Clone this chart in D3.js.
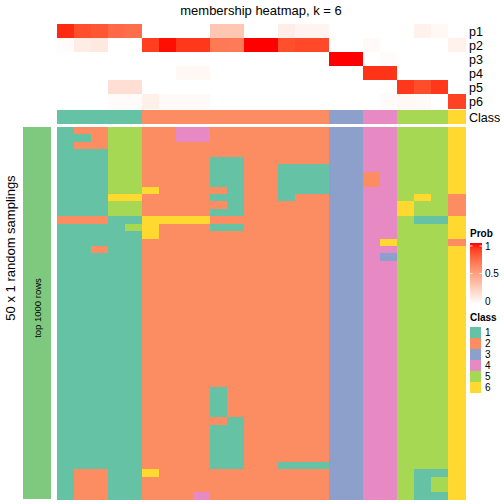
<!DOCTYPE html>
<html><head><meta charset="utf-8">
<script src="https://cdn.jsdelivr.net/npm/d3@7"></script>
<style>body{margin:0;background:#fff}svg{display:block}text{font-family:"Liberation Sans",Arial,sans-serif}</style>
</head><body><svg id="c" width="504" height="504"></svg>
<script>
const probRows = ["p1","p2","p3","p4","p5","p6"];
const classes = ["1","2","3","4","5","6"];
const classColors = ["#66C2A5","#FC8D62","#8DA0CB","#E78AC3","#A6D854","#FFD92F"];
const columnClass = [1,1,1,1,1,2,2,2,2,2,2,2,2,2,2,2,3,3,4,4,5,5,5,6];
const p1 = [0.95,0.85,0.82,0.75,0.73,0,0,0,0,0.3,0.3,0,0,0.09,0.06,0.06,0,0,0,0,0,0.07,0.04,0];
const p2 = [0.02,0.1,0.12,0,0,0.9,0.99,0.92,0.92,0.68,0.67,1,1,0.85,0.87,0.87,0,0,0.03,0,0,0,0,0.07];
const p3 = [0,0,0,0,0,0,0,0,0,0,0,0,0,0,0,0,1,1,0,0.02,0,0,0,0];
const p4 = [0,0,0,0,0,0,0,0.04,0.04,0,0,0,0,0,0,0,0,0,0.93,0.93,0,0,0,0];
const p5 = [0,0,0,0.17,0.17,0,0,0,0,0,0,0,0,0,0,0,0,0,0,0,0.92,0.86,0.92,0];
const p6 = [0,0,0,0.02,0.02,0.08,0.03,0.03,0.03,0,0,0,0,0,0,0,0,0,0,0.02,0.04,0.03,0,0.89];
const samplings = [
"122552244222222233445556",
"112552244222222233445556",
"122552222222222233445556",
"111552222222222233445556",
"111552222112222233445556",
"111552222112211133445556",
"111552222112211133245556",
"111552222112211133245556",
"111556222212211133445556",
"111662222112212233445652",
"111552222212222233446552",
"111552222112222233446552",
"222116666222222233445116",
"111156222112222233445556",
"111116222222222233445556",
"111112222222222233465552",
"112112222222222233445556",
"111112222222222233435556",
"111112222222222233445556","111112222222222233445556","111112222222222233445556",
"111112222222222233445556","111112222222222233445556","111112222222222233445556",
"111112222222222233445556","111112222222222233445556","111112222222222233445556",
"111112222222222233445556","111112222222222233445556","111112222222222233445556",
"111112222222222233445556","111112222222222233445556","111112222222222233445556",
"111112222222222233445556","111112222222222233445556",
"111112222122222233445556","111112222122222233445556","111112222122222233445556",
"111112222122222233445556",
"111112222212222233445556",
"111112222112222233445556","111112222112222233445556","111112222112222233445556",
"111112222112222233445556","111112222112222233445556",
"111112222112211133445556",
"122116222222222233445116",
"122112222222222233445156","122112222222222233445156",
"122112224222222233445116"
];
const probTicks = [0,0.5,1];

const svg = d3.select("#c");
const nCol = columnClass.length;
const x = d3.scaleBand().domain(d3.range(nCol)).range([57,465]);
const yp = d3.scaleBand().domain(probRows).range([24,108]);
const ym = d3.scaleBand().domain(d3.range(samplings.length)).range([127,499]);
const probColor = d3.scaleLinear().domain([0,1]).range(["#ffffff","#ff0000"]).interpolate(d3.interpolateLab);
const classColor = d3.scaleOrdinal().domain(classes).range(classColors);
const probs = [p1,p2,p3,p4,p5,p6];

const g = svg.append("g").attr("shape-rendering","crispEdges");
probs.forEach((arr,i)=>{
  g.selectAll(null).data(arr).enter().append("rect")
   .attr("x",(d,j)=>x(j)).attr("width",x.bandwidth()+0.5)
   .attr("y",yp(probRows[i])).attr("height",yp.bandwidth()+0.5)
   .attr("fill",d=>probColor(d));
});
g.selectAll(null).data(columnClass).enter().append("rect")
 .attr("x",(d,j)=>x(j)).attr("width",x.bandwidth()+0.5)
 .attr("y",110).attr("height",14)
 .attr("fill",d=>classColor(String(d)));
samplings.forEach((row,r)=>{
  g.selectAll(null).data(row.split("")).enter().append("rect")
   .attr("x",(d,j)=>x(j)).attr("width",x.bandwidth()+0.5)
   .attr("y",ym(r)).attr("height",ym.bandwidth()+0.5)
   .attr("fill",d=>classColor(d));
});
// left annotation
g.append("rect").attr("x",23).attr("y",127).attr("width",28).attr("height",372).attr("fill","#7FC97F");
svg.append("text").attr("transform","translate(41,308) rotate(-90)").attr("text-anchor","middle")
  .attr("font-size",9.5).text("top 1000 rows");
svg.append("text").attr("transform","translate(15,248) rotate(-90)").attr("text-anchor","middle")
  .attr("font-size",13).text("50 x 1 random samplings");
// title
svg.append("text").attr("x",261).attr("y",14.5).attr("text-anchor","middle").attr("font-size",13)
  .text("membership heatmap, k = 6");
// row labels
probRows.forEach(p=>{
  svg.append("text").attr("x",469).attr("y",yp(p)+yp.bandwidth()/2+4.5).attr("font-size",12.5).text(p);
});
svg.append("text").attr("x",469).attr("y",121.5).attr("font-size",12.5).text("Class");
// Prob legend
svg.append("text").attr("x",470).attr("y",237).attr("font-size",10).attr("font-weight","bold").text("Prob");
const defs = svg.append("defs");
const grad = defs.append("linearGradient").attr("id","pg").attr("x1",0).attr("x2",0).attr("y1",1).attr("y2",0);
d3.range(0,1.001,0.1).forEach(t=>grad.append("stop").attr("offset",t).attr("stop-color",probColor(t)));
const ly = d3.scaleLinear().domain([0,1]).range([301,246]);
svg.append("rect").attr("x",470).attr("y",243).attr("width",12).attr("height",61).attr("fill","url(#pg)");
probTicks.forEach(t=>{
  svg.append("line").attr("x1",470).attr("x2",472.5).attr("y1",ly(t)).attr("y2",ly(t)).attr("stroke","#fff").attr("stroke-width",0.8);
  svg.append("line").attr("x1",479.5).attr("x2",482).attr("y1",ly(t)).attr("y2",ly(t)).attr("stroke","#fff").attr("stroke-width",0.8);
  svg.append("text").attr("x",485).attr("y",ly(t)+3.5).attr("font-size",10).text(t===0.5?"0.5":String(t));
});
// Class legend
svg.append("text").attr("x",470).attr("y",321).attr("font-size",10).attr("font-weight","bold").text("Class");
classes.forEach((c,i)=>{
  svg.append("rect").attr("x",470).attr("y",327+i*11).attr("width",11).attr("height",11).attr("fill",classColor(c));
  svg.append("text").attr("x",485).attr("y",327+i*11+9).attr("font-size",10).text(c);
});
</script></body></html>
